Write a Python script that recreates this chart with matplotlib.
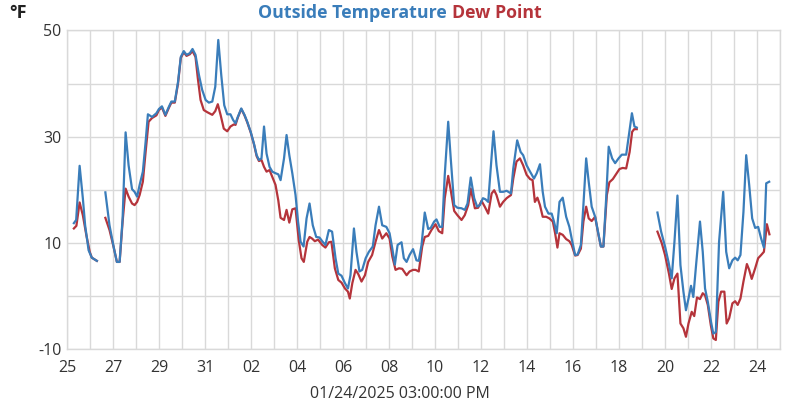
import numpy as np
import pandas as pd
import matplotlib
matplotlib.use("Agg")
import matplotlib.pyplot as plt
import matplotlib.dates as mdates
from matplotlib.ticker import MultipleLocator, FixedLocator

plt.rcParams['font.family'] = ['Open Sans', 'DejaVu Sans']
plt.rcParams['axes.unicode_minus'] = False

start = pd.Timestamp("2024-12-25 00:00")
nan = np.nan

# time offsets in days since Dec 25, 00:00 (NaN = gap in record)
temp_t = [0.29, 0.39, 0.54, 0.68, 0.78, 0.93, 1.07, 1.29, nan,
          1.66, 1.84, 2.03, 2.16, 2.28, 2.41, 2.54, 2.67, 2.82, 2.93, 3.04, 3.15, 3.29, 3.41, 3.51,
          3.69, 3.88, 3.99, 4.12, 4.27, 4.42, 4.53, 4.68, 4.82, 4.94, 5.07, 5.19, 5.33, 5.45,
          5.58, 5.73, 5.87, 6.02, 6.16, 6.31, 6.44, 6.57, 6.70, 6.83, 6.96, 7.10, 7.22, 7.32,
          7.42, 7.57, 7.71, 7.83, 7.98, 8.12, 8.24, 8.34, 8.45, 8.56, 8.67, 8.80, 8.92, 9.06,
          9.18, 9.28, 9.43, 9.54, 9.66, 9.79, 9.93, 10.04, 10.15, 10.28, 10.41, 10.54, 10.68,
          10.83, 10.97, 11.09, 11.23, 11.38, 11.52, 11.67, 11.79, 11.93, 12.08, 12.21, 12.32,
          12.47, 12.58, 12.71, 12.83, 12.98, 13.12, 13.29, 13.41, 13.56, 13.70, 13.88, 14.02,
          14.14, 14.25, 14.37, 14.54, 14.64, 14.76, 14.89, 15.04, 15.19, 15.29, 15.41, 15.55,
          15.70, 15.81, 15.96, 16.06, 16.20, 16.31, 16.42, 16.57, 16.68, 16.83, 16.97, 17.15,
          17.29, 17.41, 17.55, 17.70, 17.83, 17.95, 18.08, 18.19, 18.31, 18.43, 18.54, 18.67,
          18.82, 18.96, 19.11, 19.30, 19.40, 19.57, 19.72, 19.83, 19.98, 20.13, 20.30, 20.42,
          20.56, 20.68, 20.78, 20.93, 21.07, 21.17, 21.29, 21.41, 21.55, 21.70, 21.84, 21.94,
          22.09, 22.20, 22.34, 22.45, 22.57, 22.68, 22.81, 22.96, 23.10, 23.21, 23.32, 23.44,
          23.55, 23.70, 23.83, 23.98, 24.12, 24.31, 24.43, 24.56, 24.67, 24.77, nan,
          25.67, 25.83, 26.00, 26.15, 26.29, 26.41, 26.54, 26.67, 26.80, 26.91, 27.02, 27.13,
          27.23, 27.35, 27.52, 27.64, 27.74, 27.86, 28.00, 28.10, 28.21, 28.35, 28.53, 28.66,
          28.79, 28.93, 29.05, 29.16, 29.28, 29.41, 29.53, 29.66, 29.79, 29.92, 30.05, 30.18,
          30.30, 30.40, 30.53]
temp_f = [13.7, 14.3, 24.5, 18.4, 13.3, 8.6, 7.2, 6.6, nan,
          19.5, 13.3, 9.0, 6.4, 6.4, 14.6, 30.8, 24.6, 20.1, 19.6, 18.7, 20.9, 23.4, 29.0, 34.2,
          33.7, 34.4, 35.2, 35.7, 34.1, 35.6, 36.6, 36.6, 40.3, 45.0, 46.1, 45.4, 45.7, 46.5,
          45.4, 41.6, 38.8, 36.9, 36.4, 36.6, 39.4, 48.2, 41.6, 35.9, 34.2, 34.2, 33.1, 32.5,
          33.7, 35.3, 34.1, 32.8, 30.9, 28.7, 26.5, 25.6, 25.9, 31.9, 26.8, 24.3, 23.4, 23.1,
          22.9, 21.8, 25.9, 30.3, 26.5, 23.1, 19.0, 14.0, 10.2, 9.3, 14.6, 17.4, 13.3,
          11.1, 11.0, 10.3, 9.6, 12.4, 12.1, 7.1, 4.2, 3.8, 2.4, 1.4, 3.9,
          12.7, 8.3, 4.6, 4.9, 7.1, 8.3, 9.3, 13.3, 16.8, 13.3, 13.0, 11.8,
          8.9, 5.9, 9.6, 10.1, 7.1, 6.4, 7.7, 8.8, 6.7, 6.6, 9.6, 15.7,
          12.6, 12.8, 14.0, 14.4, 13.0, 13.0, 22.8, 32.8, 25.9, 17.1, 16.6, 16.5,
          16.2, 17.4, 22.3, 18.4, 16.8, 17.1, 18.4, 18.2, 17.7, 24.6, 31.0, 24.6,
          19.6, 19.6, 19.8, 19.3, 24.0, 29.3, 27.1, 26.5, 24.6, 23.4, 22.1, 23.1,
          24.8, 19.6, 16.8, 15.5, 15.5, 14.0, 11.8, 17.7, 18.5, 14.9, 13.0, 10.8,
          7.7, 7.8, 9.6, 17.1, 25.9, 21.5, 16.8, 14.9, 11.8, 9.3, 9.3, 18.4,
          28.1, 25.9, 25.0, 25.9, 26.6, 26.6, 30.3, 34.4, 31.9, 31.7, nan,
          15.7, 12.1, 9.3, 6.4, 3.3, 10.2, 18.9, 5.8, 0.8, -2.7, -0.5, 1.9,
          -0.2, 5.8, 14.0, 8.3, 1.4, -1.1, -4.9, -7.1, -6.8, 10.2, 19.6, 8.3,
          5.2, 6.7, 7.2, 6.7, 7.7, 15.8, 26.5, 20.9, 14.6, 12.8, 13.0, 10.8,
          9.1, 21.2, 21.5]

dew_t = [0.29, 0.40, 0.54, 0.68, 0.83, 0.98, 1.07, 1.29, nan,
         1.66, 1.84, 2.03, 2.16, 2.28, 2.41, 2.54, 2.67, 2.82, 2.93, 3.04, 3.15, 3.29, 3.41, 3.54,
         3.69, 3.88, 3.99, 4.12, 4.27, 4.42, 4.53, 4.68, 4.82, 4.94, 5.07, 5.19, 5.33, 5.45,
         5.58, 5.68, 5.80, 5.94, 6.09, 6.31, 6.44, 6.55, 6.67, 6.81, 6.96, 7.10, 7.25, 7.32,
         7.42, 7.57, 7.71, 7.83, 7.98, 8.12, 8.24, 8.34, 8.45, 8.56, 8.67, 8.80, 8.92, 9.06,
         9.18, 9.28, 9.43, 9.54, 9.66, 9.79, 9.93, 10.07, 10.19, 10.29, 10.44, 10.54, 10.65,
         10.77, 10.91, 11.09, 11.23, 11.38, 11.49, 11.64, 11.79, 11.93, 12.08, 12.21, 12.29,
         12.40, 12.54, 12.66, 12.80, 12.95, 13.09, 13.26, 13.41, 13.56, 13.70, 13.88, 14.02,
         14.14, 14.28, 14.43, 14.57, 14.76, 14.89, 15.04, 15.15, 15.29, 15.44, 15.55,
         15.70, 15.84, 16.02, 16.16, 16.31, 16.42, 16.57, 16.68, 16.83, 16.97, 17.15,
         17.29, 17.44, 17.55, 17.73, 17.87, 18.02, 18.16, 18.31, 18.46, 18.57, 18.67,
         18.82, 18.96, 19.11, 19.30, 19.40, 19.54, 19.69, 19.83, 19.98, 20.13, 20.24, 20.34,
         20.45, 20.56, 20.68, 20.83, 20.97, 21.12, 21.22, 21.32, 21.41, 21.55, 21.70, 21.84,
         21.94, 22.09, 22.20, 22.34, 22.45, 22.57, 22.68, 22.81, 22.96, 23.10, 23.21, 23.32,
         23.47, 23.58, 23.73, 23.87, 24.02, 24.16, 24.31, 24.46, 24.57, 24.66, 24.77, nan,
         25.67, 25.86, 26.00, 26.17, 26.29, 26.41, 26.54, 26.67, 26.80, 26.91, 27.02, 27.16,
         27.27, 27.39, 27.52, 27.64, 27.74, 27.86, 27.99, 28.10, 28.21, 28.32, 28.44, 28.58,
         28.68, 28.79, 28.93, 29.05, 29.16, 29.28, 29.41, 29.56, 29.66, 29.77, 29.92, 30.05,
         30.18, 30.30, 30.43, 30.54]
dew_f = [12.7, 13.2, 17.6, 15.2, 11.5, 8.3, 7.2, 6.6, nan,
         14.7, 12.4, 9.0, 6.4, 6.4, 14.0, 20.2, 18.7, 17.4, 17.1, 17.7, 19.0, 21.5, 27.1, 32.8,
         33.5, 34.0, 35.0, 35.5, 33.9, 35.4, 36.4, 36.4, 40.0, 44.8, 45.9, 45.2, 45.5, 46.1,
         45.0, 41.0, 36.9, 35.0, 34.6, 34.1, 34.8, 36.1, 34.1, 31.5, 31.0, 31.9, 32.3, 32.2,
         33.6, 35.2, 34.0, 32.7, 30.8, 28.6, 26.3, 25.4, 25.6, 24.3, 23.4, 23.7, 22.4, 20.9,
         18.0, 14.7, 14.3, 16.2, 13.8, 16.3, 16.5, 10.5, 7.1, 6.4, 10.2, 11.1, 10.8,
         10.3, 10.6, 9.6, 9.1, 10.1, 10.2, 5.2, 3.0, 2.5, 1.4, 0.8, -0.5,
         2.4, 4.9, 4.1, 2.7, 3.9, 6.4, 7.7, 10.2, 12.4, 10.8, 11.8, 10.8,
         7.4, 4.9, 5.2, 5.1, 3.9, 4.6, 4.9, 4.9, 4.6, 9.3, 11.1,
         11.3, 12.4, 13.5, 12.2, 11.8, 18.4, 22.6, 19.9, 16.0, 15.2, 14.3,
         15.2, 17.1, 20.2, 16.5, 16.6, 17.9, 16.8, 15.5, 19.3, 19.9, 19.0,
         16.8, 17.7, 18.4, 19.0, 22.1, 25.3, 25.9, 24.6, 22.8, 22.0, 21.8, 17.7,
         18.5, 17.1, 14.9, 14.9, 14.6, 14.0, 11.8, 9.1, 11.8, 11.5, 10.7, 10.3,
         9.6, 7.6, 7.7, 8.9, 14.0, 16.8, 14.6, 14.1, 14.9, 11.6, 9.3, 9.3,
         19.0, 21.4, 22.0, 22.9, 23.9, 24.1, 24.0, 27.1, 30.9, 31.4, 31.4, nan,
         12.1, 9.9, 7.7, 4.2, 1.3, 3.3, 4.2, -5.2, -6.1, -7.7, -5.2, -3.0,
         -3.8, -0.3, -0.6, 0.5, 0.1, -1.7, -5.5, -8.0, -8.3, -1.1, 0.8, 0.8,
         -5.2, -4.2, -1.4, -1.0, -1.7, -0.5, 2.7, 6.0, 4.9, 3.2, 5.2, 7.1,
         7.7, 8.3, 13.5, 11.6]

y_ticks = [-10, 10, 30, 50]
x_label = "01/24/2025 03:00:00 PM"
unit_label = "°F"

BLUE = "#3a7dba"
RED = "#b5343b"
GRID = "#d9d9d9"
TEXT = "#333333"

x0 = mdates.date2num(start.to_pydatetime())
td = x0 + np.asarray(temp_t, dtype=float)
dd = x0 + np.asarray(dew_t, dtype=float)

fig = plt.figure(figsize=(8, 4), dpi=100)
ax = fig.add_axes([0.084, 0.1275, 0.891, 0.7965])

ax.plot(td, temp_f, color=BLUE, lw=1.6, zorder=3)
ax.plot(dd, dew_f, color=RED, lw=1.6, zorder=2)

ax.set_xlim(x0, x0 + 31)
ax.set_ylim(-10, 50)
ax.xaxis_date()

ax.xaxis.set_major_locator(mdates.DayLocator(interval=2))
ax.xaxis.set_minor_locator(mdates.DayLocator())
ax.xaxis.set_major_formatter(mdates.DateFormatter('%d'))
ax.yaxis.set_major_locator(FixedLocator(y_ticks))
ax.yaxis.set_minor_locator(MultipleLocator(10))

ax.grid(True, which='both', color=GRID, lw=1.0, zorder=0)
ax.set_axisbelow(True)
for s in ax.spines.values():
    s.set_color(GRID)
    s.set_linewidth(1.0)
ax.tick_params(which='both', length=0, labelcolor=TEXT, labelsize=11.5)
ax.tick_params(axis='x', pad=8.0)
ax.tick_params(axis='y', pad=4)

ax.set_xlabel(x_label, color=TEXT, fontsize=11.5, labelpad=4.5)
ax.xaxis.set_label_coords(0.467, -0.115, transform=ax.transAxes)
ax.xaxis.label.set_verticalalignment('top')

fig.text(0.012, 0.968, unit_label, fontsize=13, fontweight='bold', color='#222222', ha='left', va='center')
t1 = fig.text(0.5, 0.968, "Outside Temperature ", fontsize=12.8, fontweight='bold', color=BLUE, ha='right', va='center')
t2 = fig.text(0.5, 0.968, "Dew Point", fontsize=12.8, fontweight='bold', color=RED, ha='left', va='center')
fig.canvas.draw()
w1 = t1.get_window_extent().width
w2 = t2.get_window_extent().width
shift = (w1 - w2) / 2 / fig.bbox.width
t1.set_x(0.5 + shift)
t2.set_x(0.5 + shift)

fig.savefig("out.png", dpi=100)
